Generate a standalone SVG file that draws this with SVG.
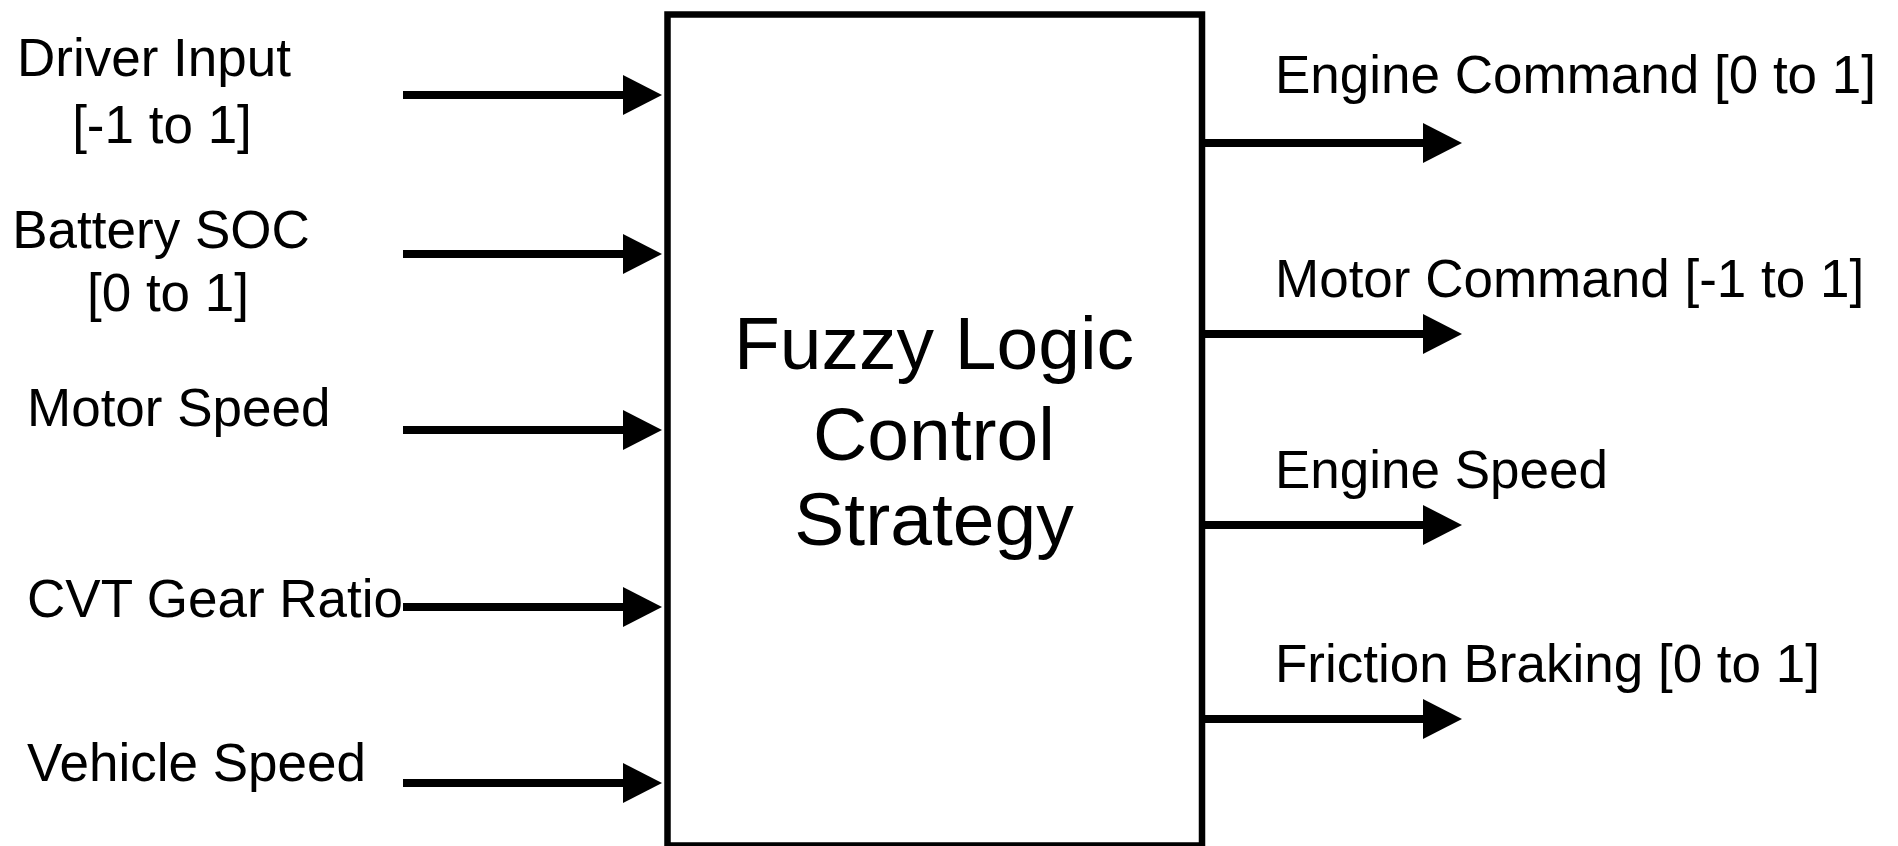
<svg xmlns="http://www.w3.org/2000/svg" width="1898" height="846" viewBox="0 0 1898 846">
  <defs>
    <style>
      .lbl { font-family: "Liberation Sans", Arial, sans-serif; font-size: 53px; fill: #000; }
      .title { font-family: "Liberation Sans", Arial, sans-serif; font-size: 75px; fill: #000; text-anchor: middle; }
      .wire { stroke: #000; stroke-width: 8; fill: none; marker-end: url(#head); }
      .block { fill: #fff; stroke: #000; stroke-width: 6.5; }
    </style>
    <marker id="head" markerUnits="userSpaceOnUse" markerWidth="40" markerHeight="40" refX="0" refY="20" orient="auto" overflow="visible">
      <path d="M0,0 L39,20 L0,40 Z" fill="#000"/>
    </marker>
  </defs>
  <rect width="1898" height="846" fill="#fff"/>

  <!-- central controller block -->
  <g id="controller">
    <rect class="block" x="667.5" y="14.5" width="534.5" height="831"/>
    <text class="title" x="934" y="369">Fuzzy Logic</text>
    <text class="title" x="934" y="460">Control</text>
    <text class="title" x="934" y="545">Strategy</text>
  </g>

  <!-- input labels -->
  <g id="in-driver">
    <text class="lbl" x="154" y="76" text-anchor="middle">Driver Input</text>
    <text class="lbl" x="162" y="143" text-anchor="middle">[-1 to 1]</text>
  </g>
  <g id="in-soc">
    <text class="lbl" x="161" y="248" text-anchor="middle">Battery SOC</text>
    <text class="lbl" x="168" y="311" text-anchor="middle">[0 to 1]</text>
  </g>
  <g id="in-motor-speed">
    <text class="lbl" x="27" y="426">Motor Speed</text>
  </g>
  <g id="in-cvt">
    <text class="lbl" x="27" y="617">CVT Gear Ratio</text>
  </g>
  <g id="in-vehicle-speed">
    <text class="lbl" x="27" y="781">Vehicle Speed</text>
  </g>

  <!-- output labels -->
  <g id="out-engine-cmd">
    <text class="lbl" x="1275" y="93">Engine Command [0 to 1]</text>
  </g>
  <g id="out-motor-cmd">
    <text class="lbl" x="1275" y="297">Motor Command [-1 to 1]</text>
  </g>
  <g id="out-engine-speed">
    <text class="lbl" x="1275" y="488">Engine Speed</text>
  </g>
  <g id="out-friction">
    <text class="lbl" x="1275" y="682">Friction Braking [0 to 1]</text>
  </g>

  <!-- signal wires -->
  <g id="connectors">
    <path class="wire" d="M403,95 H623"/>
    <path class="wire" d="M403,254 H623"/>
    <path class="wire" d="M403,430 H623"/>
    <path class="wire" d="M403,607 H623"/>
    <path class="wire" d="M403,783 H623"/>
    <path class="wire" d="M1202,143 H1423"/>
    <path class="wire" d="M1202,334 H1423"/>
    <path class="wire" d="M1202,525 H1423"/>
    <path class="wire" d="M1202,719 H1423"/>
  </g>
</svg>
